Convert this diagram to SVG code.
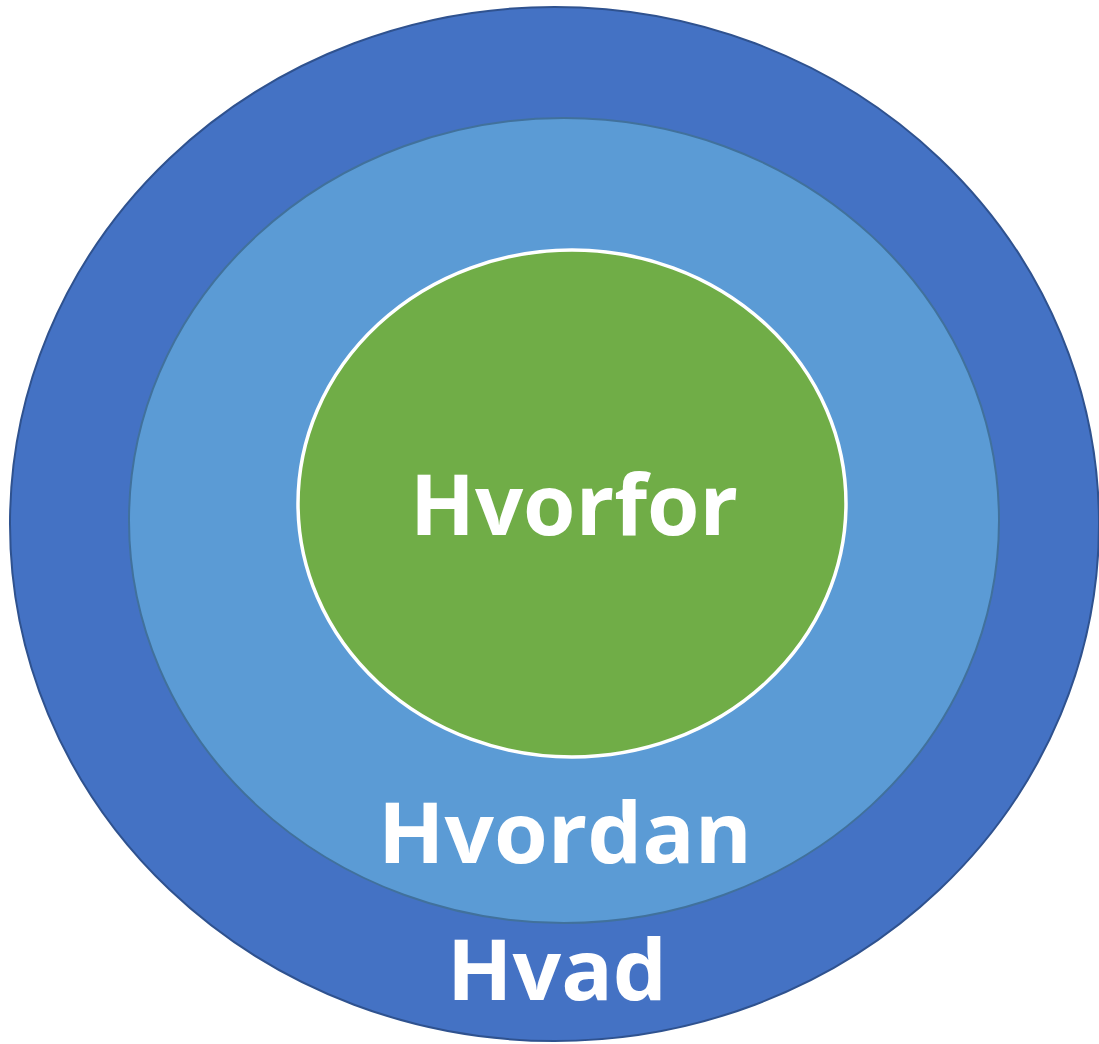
<svg xmlns="http://www.w3.org/2000/svg" width="1099" height="1044" viewBox="0 0 1099 1044">
<style>
.lbl{font-family:"Open Sans","Liberation Sans",sans-serif;font-weight:700;fill:#ffffff;font-size:85px;text-anchor:middle}
</style>
<rect width="1099" height="1044" fill="#ffffff"/>
<g id="hvad">
<ellipse cx="554.5" cy="524" rx="544.5" ry="517" fill="#4472C4" stroke="#2F528F" stroke-width="2"/>
<text class="lbl" x="557" y="1000" textLength="220" lengthAdjust="spacingAndGlyphs">Hvad</text>
</g>
<g id="hvordan">
<ellipse cx="564" cy="520.5" rx="435" ry="402.5" fill="#5B9BD5" stroke="#41719C" stroke-width="2"/>
<text class="lbl" x="565" y="863" textLength="374" lengthAdjust="spacingAndGlyphs">Hvordan</text>
</g>
<g id="hvorfor">
<ellipse cx="572" cy="503.5" rx="274" ry="253.5" fill="#70AD47" stroke="#ffffff" stroke-width="3.5"/>
<text class="lbl" x="574" y="535" textLength="328" lengthAdjust="spacingAndGlyphs">Hvorfor</text>
</g>
<g id="connectors"/>
</svg>
